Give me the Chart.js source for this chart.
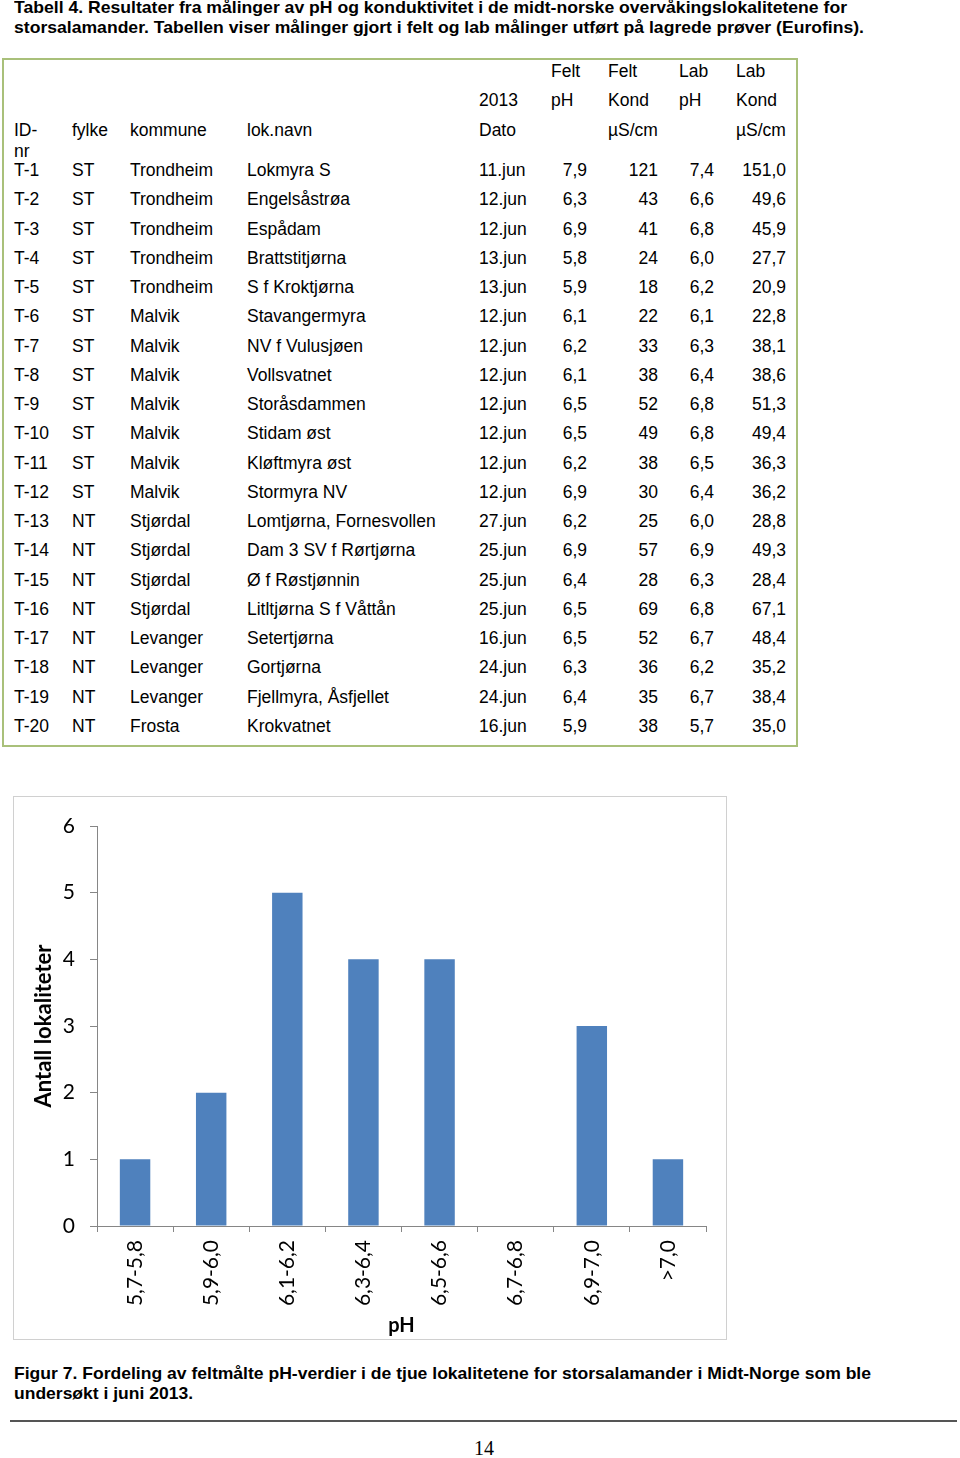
<!DOCTYPE html>
<html>
<head>
<meta charset="UTF-8">
<title>Tabell 4 og Figur 7 - pH og konduktivitet</title>
<script src="https://cdn.jsdelivr.net/npm/chart.js@4/dist/chart.umd.min.js"></script>
<style>
  body { margin: 0; background: #fff; font-family: "Liberation Sans", Arial, sans-serif; color: #000; }
  .page { position: relative; width: 960px; height: 1458px; overflow: hidden; }
  .cap { position: absolute; left: 14px; font-weight: bold; font-size: 17px; line-height: 20px; white-space: nowrap; transform-origin: left center; }
  #tbl { position: absolute; left: 2px; top: 58px; width: 792px; height: 685px; border: 2px solid #a9c07a; }
  .row { position: absolute; left: 0; height: 21px; line-height: 21px; font-size: 17.5px; white-space: nowrap; }
  .c { position: absolute; top: 0; }
  #chartbox { position: absolute; left: 13px; top: 796px; width: 712px; height: 542px; border: 1px solid #d0d0d0; }
  #rule { position: absolute; left: 10px; top: 1420px; width: 947px; height: 2px; background: #555; }
  #pagenr { position: absolute; left: 0; width: 968px; top: 1437px; text-align: center; font-family: "Liberation Serif", "Times New Roman", serif; font-size: 20px; }
</style>
</head>
<body>
<div class="page">
  <div class="cap" id="t1" style="top:-2px">Tabell 4. Resultater fra målinger av pH og konduktivitet i de midt-norske overvåkingslokalitetene for</div>
  <div class="cap" id="t2" style="top:18px">storsalamander. Tabellen viser målinger gjort i felt og lab målinger utført på lagrede prøver (Eurofins).</div>

  <div id="tbl"></div>

  <div id="chartbox"><canvas id="phchart"></canvas></div>

  <div class="cap" id="f1" style="top:1364px">Figur 7. Fordeling av feltmålte pH-verdier i de tjue lokalitetene for storsalamander i Midt-Norge som ble</div>
  <div class="cap" id="f2" style="top:1384px">undersøkt i juni 2013.</div>

  <div id="rule"></div>
  <div id="pagenr">14</div>
</div>

<script>
  // --- tabelldata ---
  var ids = ['T-1','T-2','T-3','T-4','T-5','T-6','T-7','T-8','T-9','T-10',
             'T-11','T-12','T-13','T-14','T-15','T-16','T-17','T-18','T-19','T-20'];
  var fylker = ['ST','ST','ST','ST','ST','ST','ST','ST','ST','ST','ST','ST',
                'NT','NT','NT','NT','NT','NT','NT','NT'];
  var kommuner = ['Trondheim','Trondheim','Trondheim','Trondheim','Trondheim',
                  'Malvik','Malvik','Malvik','Malvik','Malvik','Malvik','Malvik',
                  'Stjørdal','Stjørdal','Stjørdal','Stjørdal',
                  'Levanger','Levanger','Levanger','Frosta'];
  var lokNavn = ['Lokmyra S','Engelsåstrøa','Espådam','Brattstitjørna','S f Kroktjørna',
                 'Stavangermyra','NV f Vulusjøen','Vollsvatnet','Storåsdammen','Stidam øst',
                 'Kløftmyra øst','Stormyra NV','Lomtjørna, Fornesvollen','Dam 3 SV f Rørtjørna',
                 'Ø f Røstjønnin','Litltjørna S f Våttån','Setertjørna','Gortjørna',
                 'Fjellmyra, Åsfjellet','Krokvatnet'];
  var datoer = ['11.jun','12.jun','12.jun','13.jun','13.jun','12.jun','12.jun','12.jun','12.jun','12.jun',
                '12.jun','12.jun','27.jun','25.jun','25.jun','25.jun','16.jun','24.jun','24.jun','16.jun'];
  var feltPH = ['7,9','6,3','6,9','5,8','5,9','6,1','6,2','6,1','6,5','6,5',
                '6,2','6,9','6,2','6,9','6,4','6,5','6,5','6,3','6,4','5,9'];
  var feltKond = ['121','43','41','24','18','22','33','38','52','49',
                  '38','30','25','57','28','69','52','36','35','38'];
  var labPH = ['7,4','6,6','6,8','6,0','6,2','6,1','6,3','6,4','6,8','6,8',
               '6,5','6,4','6,0','6,9','6,3','6,8','6,7','6,2','6,7','5,7'];
  var labKond = ['151,0','49,6','45,9','27,7','20,9','22,8','38,1','38,6','51,3','49,4',
                 '36,3','36,2','28,8','49,3','28,4','67,1','48,4','35,2','38,4','35,0'];

  // --- figurdata ---
  var phKlasser = ['5,7-5,8','5,9-6,0','6,1-6,2','6,3-6,4','6,5-6,6','6,7-6,8','6,9-7,0','>7,0'];
  var antallLok = [1, 2, 5, 4, 4, 0, 3, 1];

  // kolonner: venstre kant, bredde (relativt til tabellen)
  var cols = [
    {l: 10, w: 58}, {l: 68, w: 58}, {l: 126, w: 117}, {l: 243, w: 232}, {l: 475, w: 72},
    {l: 547, w: 57, pr: 21}, {l: 604, w: 71, pr: 21}, {l: 675, w: 57, pr: 22}, {l: 732, w: 58, pr: 8}
  ];

  var tbl = document.getElementById('tbl');
  var addRow = function(top, texts, numeric) {
    var row = document.createElement('div');
    row.className = 'row';
    row.style.top = top + 'px';
    for (var i = 0; i < texts.length; i++) {
      if (texts[i] === '') continue;
      var c = document.createElement('div');
      c.className = 'c';
      c.style.left = cols[i].l + 'px';
      c.style.width = cols[i].w + 'px';
      if (numeric && cols[i].pr !== undefined) {
        c.style.textAlign = 'right';
        c.style.width = (cols[i].w - cols[i].pr) + 'px';
      }
      c.innerHTML = texts[i];
      row.appendChild(c);
    }
    tbl.appendChild(row);
  };

  // top er midt på linja minus halv linjehøyde, minus tabellens topp (60)
  addRow(71 - 10.5 - 60, ['', '', '', '', '', 'Felt', 'Felt', 'Lab', 'Lab'], false);
  addRow(100 - 10.5 - 60, ['', '', '', '', '2013', 'pH', 'Kond', 'pH', 'Kond'], false);
  addRow(130 - 10.5 - 60, ['ID-<br>nr', 'fylke', 'kommune', 'lok.navn', 'Dato', '', 'µS/cm', '', 'µS/cm'], false);
  for (var r = 0; r < ids.length; r++) {
    addRow(170.5 + r * 29.26 - 10.5 - 60,
      [ids[r], fylker[r], kommuner[r], lokNavn[r], datoer[r], feltPH[r], feltKond[r], labPH[r], labKond[r]], true);
  }

  // tilpass bredden på de smale overskriftene
  var fitWidth = function(id, target) {
    var el = document.getElementById(id);
    var w = el.getBoundingClientRect().width;
    el.style.transform = 'scaleX(' + (target / w) + ')';
  };
  fitWidth('t1', 833);
  fitWidth('t2', 850);
  fitWidth('f1', 857);
  fitWidth('f2', 179);

  var axisGrey = '#868686';
  var ctx = document.getElementById('phchart');

  var chart = new Chart(ctx, {
    type: 'bar',
    data: {
      labels: phKlasser,
      datasets: [{
        data: antallLok,
        backgroundColor: '#4f81bd',
        borderWidth: 0,
        categoryPercentage: 1.0,
        barPercentage: 0.4
      }]
    },
    options: {
      responsive: true,
      maintainAspectRatio: false,
      animation: false,
      layout: { padding: { left: 0, right: 20, top: 29, bottom: 0 } },
      plugins: {
        legend: { display: false },
        tooltip: { enabled: false }
      },
      scales: {
        x: {
          grid: { display: true, drawOnChartArea: false, drawTicks: true, tickLength: 6, color: axisGrey, offset: true },
          border: { display: true, color: axisGrey },
          ticks: { color: '#000', maxRotation: 90, minRotation: 90, padding: 8, font: { family: 'Lato', size: 21 } },
          title: { display: true, text: 'pH', color: '#000', padding: { top: 0, bottom: 1 }, font: { family: 'Lato', size: 20, weight: 'bold' } },
          afterFit: function(scale) { scale.height = 113; }
        },
        y: {
          min: 0,
          max: 6,
          grid: { display: true, drawOnChartArea: false, drawTicks: true, tickLength: 7, color: axisGrey },
          border: { display: true, color: axisGrey },
          ticks: { stepSize: 1, color: '#000', padding: 15, font: { family: 'Lato', size: 21 } },
          title: { display: true, text: 'Antall lokaliteter', color: '#000', padding: { top: 17, bottom: 0 }, font: { family: 'Lato', size: 22, weight: 'bold' } },
          afterFit: function(scale) { scale.width = 83; }
        }
      }
    }
  });
</script>
</body>
</html>
